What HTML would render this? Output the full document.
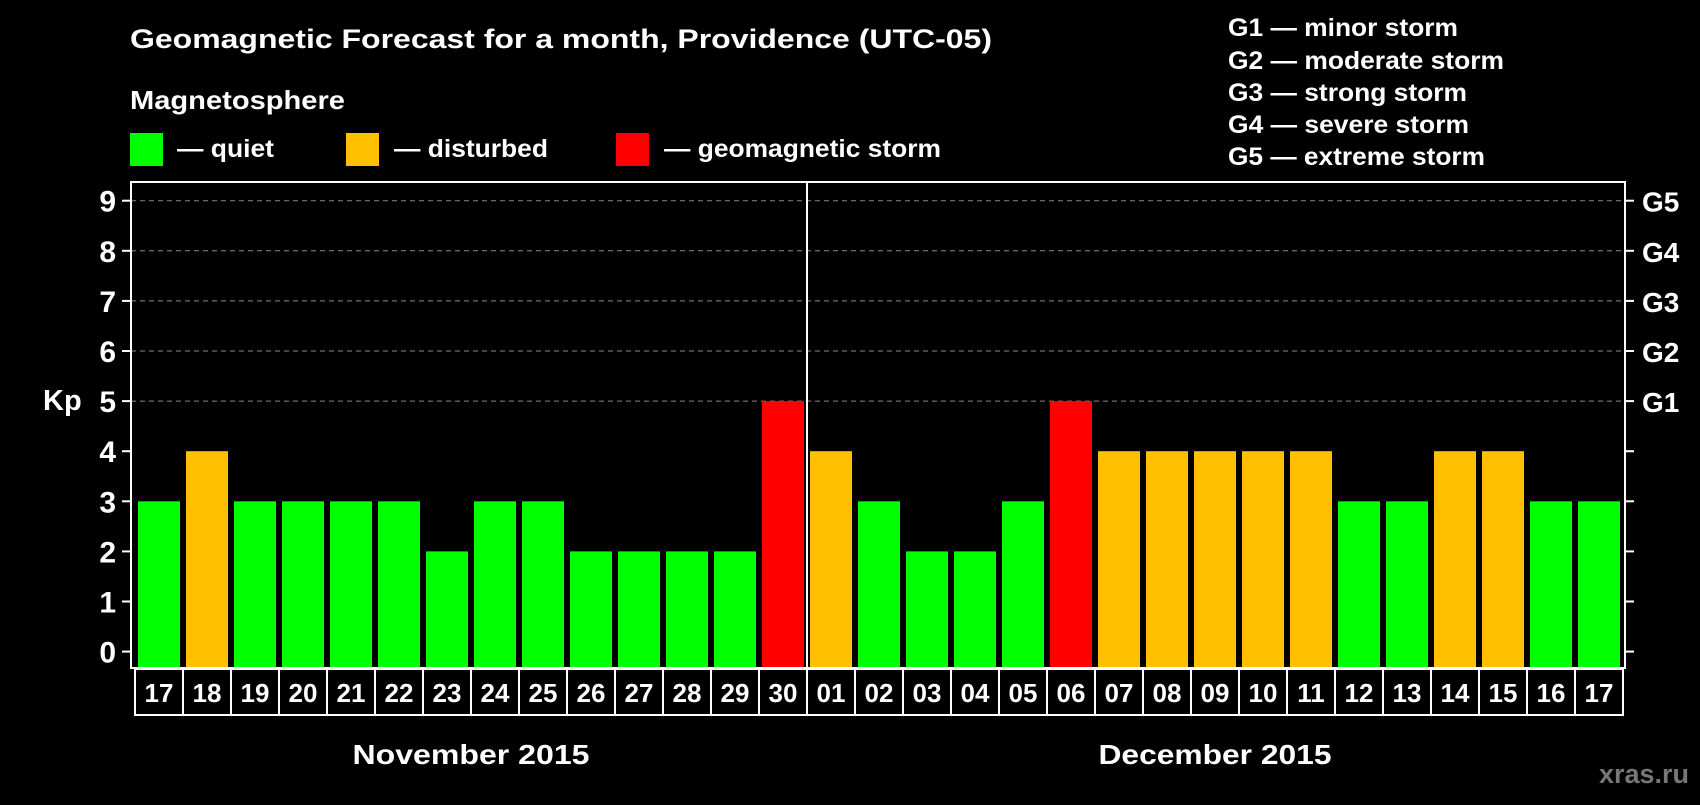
<!DOCTYPE html>
<html><head><meta charset="utf-8"><style>
body{margin:0;background:#000;width:1700px;height:800px;overflow:hidden;font-family:"Liberation Sans",sans-serif;font-weight:bold;color:#fff}
svg text{font-family:"Liberation Sans",sans-serif;font-weight:bold}
</style></head><body>
<svg id="c" width="1700" height="800">
<text x="130" y="48" font-size="27" fill="#fff" textLength="862" lengthAdjust="spacingAndGlyphs">Geomagnetic Forecast for a month, Providence (UTC-05)</text>
<text x="130" y="109" font-size="26" fill="#fff" textLength="215" lengthAdjust="spacingAndGlyphs">Magnetosphere</text>
<g><rect x="130" y="133" width="33" height="33" fill="#00ff00"/><text x="177" y="157" font-size="25" fill="#fff" textLength="97" lengthAdjust="spacingAndGlyphs">— quiet</text></g>
<g><rect x="346" y="133" width="33" height="33" fill="#ffc000"/><text x="394" y="157" font-size="25" fill="#fff" textLength="154" lengthAdjust="spacingAndGlyphs">— disturbed</text></g>
<g><rect x="616" y="133" width="33" height="33" fill="#ff0000"/><text x="664" y="157" font-size="25" fill="#fff" textLength="277" lengthAdjust="spacingAndGlyphs">— geomagnetic storm</text></g>
<g font-size="25" fill="#fff">
<text x="1228" y="36" textLength="230" lengthAdjust="spacingAndGlyphs">G1 — minor storm</text>
<text x="1228" y="69" textLength="276" lengthAdjust="spacingAndGlyphs">G2 — moderate storm</text>
<text x="1228" y="101" textLength="239" lengthAdjust="spacingAndGlyphs">G3 — strong storm</text>
<text x="1228" y="133" textLength="241" lengthAdjust="spacingAndGlyphs">G4 — severe storm</text>
<text x="1228" y="165" textLength="257" lengthAdjust="spacingAndGlyphs">G5 — extreme storm</text>
</g>
<text x="43" y="410" font-size="29" fill="#fff">Kp</text>
<g id="grid"></g><g id="bars"></g><g id="axes"></g>
<text x="471" y="764" font-size="28" fill="#fff" text-anchor="middle" textLength="237" lengthAdjust="spacingAndGlyphs">November 2015</text>
<text x="1215" y="764" font-size="28" fill="#fff" text-anchor="middle" textLength="233" lengthAdjust="spacingAndGlyphs">December 2015</text>
<text x="1689" y="783" font-size="27" fill="#777" text-anchor="end">xras.ru</text>
</svg>
<script>
const days=["17","18","19","20","21","22","23","24","25","26","27","28","29","30","01","02","03","04","05","06","07","08","09","10","11","12","13","14","15","16","17"];
const kp=[3,4,3,3,3,3,2,3,3,2,2,2,2,5,4,3,2,2,3,5,4,4,4,4,4,3,3,4,4,3,3];
const yTicks=[0,1,2,3,4,5,6,7,8,9];
const gLabels=["G1","G2","G3","G4","G5"];
const NS="http://www.w3.org/2000/svg";
const L=131,R=1625,T=182,B=668,X0=135,CW=48;
const y=v=>651.6-v*50.1;
const x=i=>X0+i*CW;
function mk(t,a,p){const e=document.createElementNS(NS,t);for(const k in a)e.setAttribute(k,a[k]);(p||document.getElementById('c')).appendChild(e);return e;}
const grid=document.getElementById('grid'),bars=document.getElementById('bars'),axes=document.getElementById('axes');
yTicks.forEach(v=>{
 if(v>=5){const g=mk('line',{x1:L,x2:R,y1:y(v),y2:y(v),stroke:'#888','stroke-dasharray':'5,4','stroke-width':1},grid);
 
 }
 const t=mk('line',{x1:L-9,x2:L,y1:y(v),y2:y(v),stroke:'#fff','stroke-width':2},axes);
 
 
 const rt=mk('line',{x1:R,x2:R+9,y1:y(v),y2:y(v),stroke:'#fff','stroke-width':2},axes);
 
 
 const l=mk('text',{x:116,y:y(v)+11,'font-size':30,fill:'#fff','text-anchor':'end'},axes);l.textContent=v;
 
 
});
gLabels.forEach((g,i)=>{const l=mk('text',{x:1642,y:y(5+i)+11,'font-size':28,fill:'#fff'},axes);l.textContent=g;
 
 });
kp.forEach((v,i)=>{const c=v>=5?'#ff0000':v>=4?'#ffc000':'#00ff00';
 const b=mk('rect',{x:x(i)+3,y:y(v),width:42,height:B-y(v),fill:c},bars);
 
 
 const bx=mk('rect',{x:x(i),y:B+1,width:CW,height:46,fill:'none',stroke:'#fff','stroke-width':2},axes);
 
 
 const t=mk('text',{x:x(i)+CW/2,y:B+34,'font-size':26,fill:'#fff','text-anchor':'middle'},axes);t.textContent=days[i];
 
 
});
const fr=mk('rect',{x:L,y:T,width:R-L,height:B-T,fill:'none',stroke:'#fff','stroke-width':2},axes);


const sep=mk('line',{x1:x(14),x2:x(14),y1:T,y2:B,stroke:'#fff','stroke-width':2},axes);


</script>
</body></html>
